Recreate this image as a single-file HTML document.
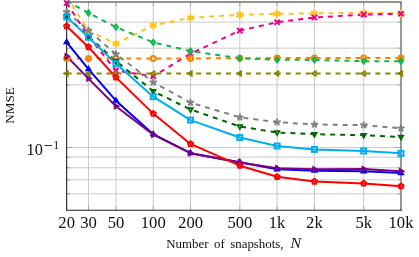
<!DOCTYPE html>
<html><head><meta charset="utf-8"><style>
html,body{margin:0;padding:0;background:#fff;}
body{width:419px;height:257px;overflow:hidden;position:relative;font-family:"Liberation Serif",serif;}
</style></head><body>
<svg width="419" height="257" viewBox="0 0 419 257" style="position:absolute;left:0;top:0;will-change:transform">
<rect width="419" height="257" fill="#fff"/>
<line x1="88.46" y1="1.95" x2="88.46" y2="210.3" stroke="#cacaca" stroke-width="1"/>
<line x1="115.95" y1="1.95" x2="115.95" y2="210.3" stroke="#cacaca" stroke-width="1"/>
<line x1="153.24" y1="1.95" x2="153.24" y2="210.3" stroke="#cacaca" stroke-width="1"/>
<line x1="190.53" y1="1.95" x2="190.53" y2="210.3" stroke="#cacaca" stroke-width="1"/>
<line x1="239.83" y1="1.95" x2="239.83" y2="210.3" stroke="#cacaca" stroke-width="1"/>
<line x1="277.12" y1="1.95" x2="277.12" y2="210.3" stroke="#cacaca" stroke-width="1"/>
<line x1="314.41" y1="1.95" x2="314.41" y2="210.3" stroke="#cacaca" stroke-width="1"/>
<line x1="363.71" y1="1.95" x2="363.71" y2="210.3" stroke="#cacaca" stroke-width="1"/>
<line x1="66.65" y1="22.14" x2="401.0" y2="22.14" stroke="#cacaca" stroke-width="1"/>
<line x1="66.65" y1="48.17" x2="401.0" y2="48.17" stroke="#cacaca" stroke-width="1"/>
<line x1="66.65" y1="84.86" x2="401.0" y2="84.86" stroke="#cacaca" stroke-width="1"/>
<line x1="66.65" y1="147.58" x2="401.0" y2="147.58" stroke="#cacaca" stroke-width="1"/>
<line x1="66.65" y1="157.11" x2="401.0" y2="157.11" stroke="#cacaca" stroke-width="1"/>
<line x1="66.65" y1="167.77" x2="401.0" y2="167.77" stroke="#cacaca" stroke-width="1"/>
<line x1="66.65" y1="179.85" x2="401.0" y2="179.85" stroke="#cacaca" stroke-width="1"/>
<line x1="66.65" y1="193.80" x2="401.0" y2="193.80" stroke="#cacaca" stroke-width="1"/>
<line x1="66.65" y1="210.3" x2="66.65" y2="206.3" stroke="#999" stroke-width="0.8"/>
<line x1="66.65" y1="1.95" x2="66.65" y2="5.95" stroke="#999" stroke-width="0.8"/>
<line x1="88.46" y1="210.3" x2="88.46" y2="206.3" stroke="#999" stroke-width="0.8"/>
<line x1="88.46" y1="1.95" x2="88.46" y2="5.95" stroke="#999" stroke-width="0.8"/>
<line x1="115.95" y1="210.3" x2="115.95" y2="206.3" stroke="#999" stroke-width="0.8"/>
<line x1="115.95" y1="1.95" x2="115.95" y2="5.95" stroke="#999" stroke-width="0.8"/>
<line x1="153.24" y1="210.3" x2="153.24" y2="206.3" stroke="#999" stroke-width="0.8"/>
<line x1="153.24" y1="1.95" x2="153.24" y2="5.95" stroke="#999" stroke-width="0.8"/>
<line x1="190.53" y1="210.3" x2="190.53" y2="206.3" stroke="#999" stroke-width="0.8"/>
<line x1="190.53" y1="1.95" x2="190.53" y2="5.95" stroke="#999" stroke-width="0.8"/>
<line x1="239.83" y1="210.3" x2="239.83" y2="206.3" stroke="#999" stroke-width="0.8"/>
<line x1="239.83" y1="1.95" x2="239.83" y2="5.95" stroke="#999" stroke-width="0.8"/>
<line x1="277.12" y1="210.3" x2="277.12" y2="206.3" stroke="#999" stroke-width="0.8"/>
<line x1="277.12" y1="1.95" x2="277.12" y2="5.95" stroke="#999" stroke-width="0.8"/>
<line x1="314.41" y1="210.3" x2="314.41" y2="206.3" stroke="#999" stroke-width="0.8"/>
<line x1="314.41" y1="1.95" x2="314.41" y2="5.95" stroke="#999" stroke-width="0.8"/>
<line x1="363.71" y1="210.3" x2="363.71" y2="206.3" stroke="#999" stroke-width="0.8"/>
<line x1="363.71" y1="1.95" x2="363.71" y2="5.95" stroke="#999" stroke-width="0.8"/>
<line x1="401.00" y1="210.3" x2="401.00" y2="206.3" stroke="#999" stroke-width="0.8"/>
<line x1="401.00" y1="1.95" x2="401.00" y2="5.95" stroke="#999" stroke-width="0.8"/>
<line x1="66.65" y1="22.14" x2="70.15" y2="22.14" stroke="#999" stroke-width="0.8"/>
<line x1="401.0" y1="22.14" x2="397.5" y2="22.14" stroke="#999" stroke-width="0.8"/>
<line x1="66.65" y1="48.17" x2="70.15" y2="48.17" stroke="#999" stroke-width="0.8"/>
<line x1="401.0" y1="48.17" x2="397.5" y2="48.17" stroke="#999" stroke-width="0.8"/>
<line x1="66.65" y1="84.86" x2="70.15" y2="84.86" stroke="#999" stroke-width="0.8"/>
<line x1="401.0" y1="84.86" x2="397.5" y2="84.86" stroke="#999" stroke-width="0.8"/>
<line x1="66.65" y1="147.58" x2="72.65" y2="147.58" stroke="#999" stroke-width="0.8"/>
<line x1="401.0" y1="147.58" x2="395.0" y2="147.58" stroke="#999" stroke-width="0.8"/>
<line x1="66.65" y1="157.11" x2="70.15" y2="157.11" stroke="#999" stroke-width="0.8"/>
<line x1="401.0" y1="157.11" x2="397.5" y2="157.11" stroke="#999" stroke-width="0.8"/>
<line x1="66.65" y1="167.77" x2="70.15" y2="167.77" stroke="#999" stroke-width="0.8"/>
<line x1="401.0" y1="167.77" x2="397.5" y2="167.77" stroke="#999" stroke-width="0.8"/>
<line x1="66.65" y1="179.85" x2="70.15" y2="179.85" stroke="#999" stroke-width="0.8"/>
<line x1="401.0" y1="179.85" x2="397.5" y2="179.85" stroke="#999" stroke-width="0.8"/>
<line x1="66.65" y1="193.80" x2="70.15" y2="193.80" stroke="#999" stroke-width="0.8"/>
<line x1="401.0" y1="193.80" x2="397.5" y2="193.80" stroke="#999" stroke-width="0.8"/>
<path d="M66.65 1.95H401.0V210.3" fill="none" stroke="#707070" stroke-width="1.4" stroke-linejoin="round"/>
<path d="M66.65 1.25V210.3H401.7" fill="none" stroke="#222" stroke-width="1.1" stroke-linejoin="miter"/>
<clipPath id="c"><rect x="66.65" y="1.95" width="334.35" height="208.35000000000002"/></clipPath>
<polyline points="66.65,-3.50 88.46,30.80 115.95,43.70 153.24,25.40 190.53,17.80 239.83,14.80 277.12,13.90 314.41,13.40 363.71,12.80 401.00,13.40" fill="none" stroke="#ffc31a" stroke-width="1.99" stroke-linejoin="round" stroke-dasharray="4.98 4.98" clip-path="url(#c)"/>
<polyline points="66.65,3.00 88.46,36.30 115.95,70.60 153.24,76.20 190.53,53.70 239.83,30.60 277.12,22.20 314.41,17.50 363.71,14.60 401.00,13.80" fill="none" stroke="#ec008c" stroke-width="1.99" stroke-linejoin="round" stroke-dasharray="4.98 4.98" clip-path="url(#c)"/>
<polyline points="66.65,58.60 88.46,58.60 115.95,58.50 153.24,58.40 190.53,58.40 239.83,58.30 277.12,58.00 314.41,58.10 363.71,57.90 401.00,57.90" fill="none" stroke="#ff8000" stroke-width="1.99" stroke-linejoin="round" stroke-dasharray="4.98 4.98" clip-path="url(#c)"/>
<polyline points="66.65,1.00 88.46,12.90 115.95,27.10 153.24,42.40 190.53,51.00 239.83,58.30 277.12,59.80 314.41,59.90 363.71,61.20 401.00,61.20" fill="none" stroke="#08b84a" stroke-width="1.99" stroke-linejoin="round" stroke-dasharray="4.98 4.98" clip-path="url(#c)"/>
<polyline points="66.65,73.50 88.46,73.50 115.95,73.50 153.24,73.50 190.53,73.50 239.83,73.50 277.12,73.50 314.41,73.50 363.71,73.50 401.00,73.50" fill="none" stroke="#8a8500" stroke-width="1.99" stroke-linejoin="round" stroke-dasharray="4.98 4.98" clip-path="url(#c)"/>
<polyline points="66.65,11.90 88.46,30.50 115.95,54.20 153.24,82.30 190.53,102.60 239.83,117.30 277.12,122.20 314.41,124.50 363.71,125.20 401.00,128.30" fill="none" stroke="#808080" stroke-width="1.99" stroke-linejoin="round" stroke-dasharray="4.98 4.98" clip-path="url(#c)"/>
<polyline points="66.65,16.80 88.46,36.60 115.95,61.00 153.24,91.20 190.53,109.50 239.83,126.50 277.12,132.50 314.41,134.20 363.71,135.20 401.00,137.00" fill="none" stroke="#006600" stroke-width="1.99" stroke-linejoin="round" stroke-dasharray="4.98 4.98" clip-path="url(#c)"/>
<polyline points="66.65,17.00 88.46,37.30 115.95,63.60 153.24,96.70 190.53,120.10 239.83,137.50 277.12,146.00 314.41,149.40 363.71,151.00 401.00,153.30" fill="none" stroke="#00aeef" stroke-width="1.99" stroke-linejoin="round" clip-path="url(#c)"/>
<polyline points="66.65,42.20 88.46,69.20 115.95,100.70 153.24,134.20 190.53,153.20 239.83,162.20 277.12,169.30 314.41,170.70 363.71,171.30 401.00,173.00" fill="none" stroke="#0000ff" stroke-width="1.99" stroke-linejoin="round" clip-path="url(#c)"/>
<polyline points="66.65,56.20 88.46,78.60 115.95,106.20 153.24,134.70 190.53,153.20 239.83,162.50 277.12,168.30 314.41,169.20 363.71,168.90 401.00,171.30" fill="none" stroke="#800080" stroke-width="1.99" stroke-linejoin="round" clip-path="url(#c)"/>
<polyline points="66.65,26.20 88.46,47.00 115.95,77.40 153.24,113.60 190.53,143.90 239.83,165.70 277.12,176.80 314.41,181.50 363.71,183.40 401.00,186.20" fill="none" stroke="#ff0000" stroke-width="1.99" stroke-linejoin="round" clip-path="url(#c)"/>
<line x1="88.46" y1="26.85" x2="88.46" y2="34.75" stroke="#ffc31a" stroke-width="1.99"/><line x1="85.04" y1="28.82" x2="91.89" y2="32.77" stroke="#ffc31a" stroke-width="1.99"/><line x1="91.89" y1="28.82" x2="85.04" y2="32.77" stroke="#ffc31a" stroke-width="1.99"/>
<line x1="115.95" y1="39.75" x2="115.95" y2="47.65" stroke="#ffc31a" stroke-width="1.99"/><line x1="112.53" y1="41.73" x2="119.37" y2="45.68" stroke="#ffc31a" stroke-width="1.99"/><line x1="119.37" y1="41.73" x2="112.53" y2="45.68" stroke="#ffc31a" stroke-width="1.99"/>
<line x1="153.24" y1="21.45" x2="153.24" y2="29.35" stroke="#ffc31a" stroke-width="1.99"/><line x1="149.82" y1="23.42" x2="156.66" y2="27.38" stroke="#ffc31a" stroke-width="1.99"/><line x1="156.66" y1="23.42" x2="149.82" y2="27.38" stroke="#ffc31a" stroke-width="1.99"/>
<line x1="190.53" y1="13.85" x2="190.53" y2="21.75" stroke="#ffc31a" stroke-width="1.99"/><line x1="187.11" y1="15.83" x2="193.95" y2="19.78" stroke="#ffc31a" stroke-width="1.99"/><line x1="193.95" y1="15.83" x2="187.11" y2="19.78" stroke="#ffc31a" stroke-width="1.99"/>
<line x1="239.83" y1="10.85" x2="239.83" y2="18.75" stroke="#ffc31a" stroke-width="1.99"/><line x1="236.41" y1="12.83" x2="243.25" y2="16.78" stroke="#ffc31a" stroke-width="1.99"/><line x1="243.25" y1="12.83" x2="236.41" y2="16.78" stroke="#ffc31a" stroke-width="1.99"/>
<line x1="277.12" y1="9.95" x2="277.12" y2="17.85" stroke="#ffc31a" stroke-width="1.99"/><line x1="273.70" y1="11.93" x2="280.54" y2="15.88" stroke="#ffc31a" stroke-width="1.99"/><line x1="280.54" y1="11.93" x2="273.70" y2="15.88" stroke="#ffc31a" stroke-width="1.99"/>
<line x1="314.41" y1="9.45" x2="314.41" y2="17.35" stroke="#ffc31a" stroke-width="1.99"/><line x1="310.99" y1="11.43" x2="317.83" y2="15.38" stroke="#ffc31a" stroke-width="1.99"/><line x1="317.83" y1="11.43" x2="310.99" y2="15.38" stroke="#ffc31a" stroke-width="1.99"/>
<line x1="363.71" y1="8.85" x2="363.71" y2="16.75" stroke="#ffc31a" stroke-width="1.99"/><line x1="360.29" y1="10.83" x2="367.13" y2="14.78" stroke="#ffc31a" stroke-width="1.99"/><line x1="367.13" y1="10.83" x2="360.29" y2="14.78" stroke="#ffc31a" stroke-width="1.99"/>
<line x1="401.00" y1="9.45" x2="401.00" y2="17.35" stroke="#ffc31a" stroke-width="1.99"/><line x1="397.58" y1="11.43" x2="404.42" y2="15.38" stroke="#ffc31a" stroke-width="1.99"/><line x1="404.42" y1="11.43" x2="397.58" y2="15.38" stroke="#ffc31a" stroke-width="1.99"/>
<path d="M64.04 0.39L69.26 5.61M64.04 5.61L69.26 0.39" stroke="#ec008c" stroke-width="1.99" fill="none"/>
<path d="M85.86 33.69L91.07 38.91M85.86 38.91L91.07 33.69" stroke="#ec008c" stroke-width="1.99" fill="none"/>
<path d="M113.34 67.99L118.55 73.21M113.34 73.21L118.55 67.99" stroke="#ec008c" stroke-width="1.99" fill="none"/>
<path d="M150.63 73.59L155.85 78.81M150.63 78.81L155.85 73.59" stroke="#ec008c" stroke-width="1.99" fill="none"/>
<path d="M187.92 51.09L193.14 56.31M187.92 56.31L193.14 51.09" stroke="#ec008c" stroke-width="1.99" fill="none"/>
<path d="M237.22 27.99L242.43 33.21M237.22 33.21L242.43 27.99" stroke="#ec008c" stroke-width="1.99" fill="none"/>
<path d="M274.51 19.59L279.73 24.81M274.51 24.81L279.73 19.59" stroke="#ec008c" stroke-width="1.99" fill="none"/>
<path d="M311.80 14.89L317.02 20.11M311.80 20.11L317.02 14.89" stroke="#ec008c" stroke-width="1.99" fill="none"/>
<path d="M361.10 11.99L366.31 17.21M361.10 17.21L366.31 11.99" stroke="#ec008c" stroke-width="1.99" fill="none"/>
<path d="M398.39 11.19L403.61 16.41M398.39 16.41L403.61 11.19" stroke="#ec008c" stroke-width="1.99" fill="none"/>
<circle cx="66.65" cy="58.60" r="2.49" stroke="#ff8000" stroke-width="1.99" fill="none"/>
<circle cx="88.46" cy="58.60" r="2.49" stroke="#ff8000" stroke-width="1.99" fill="none"/>
<circle cx="115.95" cy="58.50" r="2.49" stroke="#ff8000" stroke-width="1.99" fill="none"/>
<circle cx="153.24" cy="58.40" r="2.49" stroke="#ff8000" stroke-width="1.99" fill="none"/>
<circle cx="190.53" cy="58.40" r="2.49" stroke="#ff8000" stroke-width="1.99" fill="none"/>
<circle cx="239.83" cy="58.30" r="2.49" stroke="#ff8000" stroke-width="1.99" fill="none"/>
<circle cx="277.12" cy="58.00" r="2.49" stroke="#ff8000" stroke-width="1.99" fill="none"/>
<circle cx="314.41" cy="58.10" r="2.49" stroke="#ff8000" stroke-width="1.99" fill="none"/>
<circle cx="363.71" cy="57.90" r="2.49" stroke="#ff8000" stroke-width="1.99" fill="none"/>
<circle cx="401.00" cy="57.90" r="2.49" stroke="#ff8000" stroke-width="1.99" fill="none"/>
<path d="M88.46 10.41L90.33 12.90L88.46 15.39L86.60 12.90Z" stroke="#08b84a" stroke-width="1.99" fill="none" stroke-miterlimit="10"/>
<path d="M115.95 24.61L117.81 27.10L115.95 29.59L114.08 27.10Z" stroke="#08b84a" stroke-width="1.99" fill="none" stroke-miterlimit="10"/>
<path d="M153.24 39.91L155.11 42.40L153.24 44.89L151.37 42.40Z" stroke="#08b84a" stroke-width="1.99" fill="none" stroke-miterlimit="10"/>
<path d="M190.53 48.51L192.40 51.00L190.53 53.49L188.66 51.00Z" stroke="#08b84a" stroke-width="1.99" fill="none" stroke-miterlimit="10"/>
<path d="M239.83 55.81L241.70 58.30L239.83 60.79L237.96 58.30Z" stroke="#08b84a" stroke-width="1.99" fill="none" stroke-miterlimit="10"/>
<path d="M277.12 57.31L278.99 59.80L277.12 62.29L275.25 59.80Z" stroke="#08b84a" stroke-width="1.99" fill="none" stroke-miterlimit="10"/>
<path d="M314.41 57.41L316.28 59.90L314.41 62.39L312.54 59.90Z" stroke="#08b84a" stroke-width="1.99" fill="none" stroke-miterlimit="10"/>
<path d="M363.71 58.71L365.58 61.20L363.71 63.69L361.84 61.20Z" stroke="#08b84a" stroke-width="1.99" fill="none" stroke-miterlimit="10"/>
<path d="M401.00 58.71L402.87 61.20L401.00 63.69L399.13 61.20Z" stroke="#08b84a" stroke-width="1.99" fill="none" stroke-miterlimit="10"/>
<polygon points="0.00,-2.60 -2.25,1.30 2.25,1.30" transform="translate(66.65 73.50) rotate(-90)" fill="none" stroke="#8a8500" stroke-width="1.7" stroke-linejoin="miter" stroke-miterlimit="10"/>
<polygon points="0.00,-2.60 -2.25,1.30 2.25,1.30" transform="translate(88.46 73.50) rotate(-90)" fill="none" stroke="#8a8500" stroke-width="1.7" stroke-linejoin="miter" stroke-miterlimit="10"/>
<polygon points="0.00,-2.60 -2.25,1.30 2.25,1.30" transform="translate(115.95 73.50) rotate(-90)" fill="none" stroke="#8a8500" stroke-width="1.7" stroke-linejoin="miter" stroke-miterlimit="10"/>
<polygon points="0.00,-2.60 -2.25,1.30 2.25,1.30" transform="translate(153.24 73.50) rotate(-90)" fill="none" stroke="#8a8500" stroke-width="1.7" stroke-linejoin="miter" stroke-miterlimit="10"/>
<polygon points="0.00,-2.60 -2.25,1.30 2.25,1.30" transform="translate(190.53 73.50) rotate(-90)" fill="none" stroke="#8a8500" stroke-width="1.7" stroke-linejoin="miter" stroke-miterlimit="10"/>
<polygon points="0.00,-2.60 -2.25,1.30 2.25,1.30" transform="translate(239.83 73.50) rotate(-90)" fill="none" stroke="#8a8500" stroke-width="1.7" stroke-linejoin="miter" stroke-miterlimit="10"/>
<polygon points="0.00,-2.60 -2.25,1.30 2.25,1.30" transform="translate(277.12 73.50) rotate(-90)" fill="none" stroke="#8a8500" stroke-width="1.7" stroke-linejoin="miter" stroke-miterlimit="10"/>
<polygon points="0.00,-2.60 -2.25,1.30 2.25,1.30" transform="translate(314.41 73.50) rotate(-90)" fill="none" stroke="#8a8500" stroke-width="1.7" stroke-linejoin="miter" stroke-miterlimit="10"/>
<polygon points="0.00,-2.60 -2.25,1.30 2.25,1.30" transform="translate(363.71 73.50) rotate(-90)" fill="none" stroke="#8a8500" stroke-width="1.7" stroke-linejoin="miter" stroke-miterlimit="10"/>
<polygon points="0.00,-2.60 -2.25,1.30 2.25,1.30" transform="translate(401.00 73.50) rotate(-90)" fill="none" stroke="#8a8500" stroke-width="1.7" stroke-linejoin="miter" stroke-miterlimit="10"/>
<line x1="66.65" y1="11.90" x2="66.65" y2="8.20" stroke="#808080" stroke-width="1.99"/><line x1="66.65" y1="11.90" x2="63.13" y2="10.76" stroke="#808080" stroke-width="1.99"/><line x1="66.65" y1="11.90" x2="64.48" y2="14.89" stroke="#808080" stroke-width="1.99"/><line x1="66.65" y1="11.90" x2="68.82" y2="14.89" stroke="#808080" stroke-width="1.99"/><line x1="66.65" y1="11.90" x2="70.17" y2="10.76" stroke="#808080" stroke-width="1.99"/>
<line x1="88.46" y1="30.50" x2="88.46" y2="26.80" stroke="#808080" stroke-width="1.99"/><line x1="88.46" y1="30.50" x2="84.95" y2="29.36" stroke="#808080" stroke-width="1.99"/><line x1="88.46" y1="30.50" x2="86.29" y2="33.49" stroke="#808080" stroke-width="1.99"/><line x1="88.46" y1="30.50" x2="90.64" y2="33.49" stroke="#808080" stroke-width="1.99"/><line x1="88.46" y1="30.50" x2="91.98" y2="29.36" stroke="#808080" stroke-width="1.99"/>
<line x1="115.95" y1="54.20" x2="115.95" y2="50.50" stroke="#808080" stroke-width="1.99"/><line x1="115.95" y1="54.20" x2="112.43" y2="53.06" stroke="#808080" stroke-width="1.99"/><line x1="115.95" y1="54.20" x2="113.77" y2="57.19" stroke="#808080" stroke-width="1.99"/><line x1="115.95" y1="54.20" x2="118.12" y2="57.19" stroke="#808080" stroke-width="1.99"/><line x1="115.95" y1="54.20" x2="119.47" y2="53.06" stroke="#808080" stroke-width="1.99"/>
<line x1="153.24" y1="82.30" x2="153.24" y2="78.60" stroke="#808080" stroke-width="1.99"/><line x1="153.24" y1="82.30" x2="149.72" y2="81.16" stroke="#808080" stroke-width="1.99"/><line x1="153.24" y1="82.30" x2="151.06" y2="85.29" stroke="#808080" stroke-width="1.99"/><line x1="153.24" y1="82.30" x2="155.41" y2="85.29" stroke="#808080" stroke-width="1.99"/><line x1="153.24" y1="82.30" x2="156.76" y2="81.16" stroke="#808080" stroke-width="1.99"/>
<line x1="190.53" y1="102.60" x2="190.53" y2="98.90" stroke="#808080" stroke-width="1.99"/><line x1="190.53" y1="102.60" x2="187.01" y2="101.46" stroke="#808080" stroke-width="1.99"/><line x1="190.53" y1="102.60" x2="188.36" y2="105.59" stroke="#808080" stroke-width="1.99"/><line x1="190.53" y1="102.60" x2="192.71" y2="105.59" stroke="#808080" stroke-width="1.99"/><line x1="190.53" y1="102.60" x2="194.05" y2="101.46" stroke="#808080" stroke-width="1.99"/>
<line x1="239.83" y1="117.30" x2="239.83" y2="113.60" stroke="#808080" stroke-width="1.99"/><line x1="239.83" y1="117.30" x2="236.31" y2="116.16" stroke="#808080" stroke-width="1.99"/><line x1="239.83" y1="117.30" x2="237.65" y2="120.29" stroke="#808080" stroke-width="1.99"/><line x1="239.83" y1="117.30" x2="242.00" y2="120.29" stroke="#808080" stroke-width="1.99"/><line x1="239.83" y1="117.30" x2="243.35" y2="116.16" stroke="#808080" stroke-width="1.99"/>
<line x1="277.12" y1="122.20" x2="277.12" y2="118.50" stroke="#808080" stroke-width="1.99"/><line x1="277.12" y1="122.20" x2="273.60" y2="121.06" stroke="#808080" stroke-width="1.99"/><line x1="277.12" y1="122.20" x2="274.94" y2="125.19" stroke="#808080" stroke-width="1.99"/><line x1="277.12" y1="122.20" x2="279.29" y2="125.19" stroke="#808080" stroke-width="1.99"/><line x1="277.12" y1="122.20" x2="280.64" y2="121.06" stroke="#808080" stroke-width="1.99"/>
<line x1="314.41" y1="124.50" x2="314.41" y2="120.80" stroke="#808080" stroke-width="1.99"/><line x1="314.41" y1="124.50" x2="310.89" y2="123.36" stroke="#808080" stroke-width="1.99"/><line x1="314.41" y1="124.50" x2="312.24" y2="127.49" stroke="#808080" stroke-width="1.99"/><line x1="314.41" y1="124.50" x2="316.59" y2="127.49" stroke="#808080" stroke-width="1.99"/><line x1="314.41" y1="124.50" x2="317.93" y2="123.36" stroke="#808080" stroke-width="1.99"/>
<line x1="363.71" y1="125.20" x2="363.71" y2="121.50" stroke="#808080" stroke-width="1.99"/><line x1="363.71" y1="125.20" x2="360.19" y2="124.06" stroke="#808080" stroke-width="1.99"/><line x1="363.71" y1="125.20" x2="361.53" y2="128.19" stroke="#808080" stroke-width="1.99"/><line x1="363.71" y1="125.20" x2="365.88" y2="128.19" stroke="#808080" stroke-width="1.99"/><line x1="363.71" y1="125.20" x2="367.23" y2="124.06" stroke="#808080" stroke-width="1.99"/>
<line x1="401.00" y1="128.30" x2="401.00" y2="124.60" stroke="#808080" stroke-width="1.99"/><line x1="401.00" y1="128.30" x2="397.48" y2="127.16" stroke="#808080" stroke-width="1.99"/><line x1="401.00" y1="128.30" x2="398.83" y2="131.29" stroke="#808080" stroke-width="1.99"/><line x1="401.00" y1="128.30" x2="403.17" y2="131.29" stroke="#808080" stroke-width="1.99"/><line x1="401.00" y1="128.30" x2="404.52" y2="127.16" stroke="#808080" stroke-width="1.99"/>
<polygon points="0.00,-2.60 -2.25,1.30 2.25,1.30" transform="translate(66.65 16.80) rotate(180)" fill="none" stroke="#006600" stroke-width="1.7" stroke-linejoin="miter" stroke-miterlimit="10"/>
<polygon points="0.00,-2.60 -2.25,1.30 2.25,1.30" transform="translate(88.46 36.60) rotate(180)" fill="none" stroke="#006600" stroke-width="1.7" stroke-linejoin="miter" stroke-miterlimit="10"/>
<polygon points="0.00,-2.60 -2.25,1.30 2.25,1.30" transform="translate(115.95 61.00) rotate(180)" fill="none" stroke="#006600" stroke-width="1.7" stroke-linejoin="miter" stroke-miterlimit="10"/>
<polygon points="0.00,-2.60 -2.25,1.30 2.25,1.30" transform="translate(153.24 91.20) rotate(180)" fill="none" stroke="#006600" stroke-width="1.7" stroke-linejoin="miter" stroke-miterlimit="10"/>
<polygon points="0.00,-2.60 -2.25,1.30 2.25,1.30" transform="translate(190.53 109.50) rotate(180)" fill="none" stroke="#006600" stroke-width="1.7" stroke-linejoin="miter" stroke-miterlimit="10"/>
<polygon points="0.00,-2.60 -2.25,1.30 2.25,1.30" transform="translate(239.83 126.50) rotate(180)" fill="none" stroke="#006600" stroke-width="1.7" stroke-linejoin="miter" stroke-miterlimit="10"/>
<polygon points="0.00,-2.60 -2.25,1.30 2.25,1.30" transform="translate(277.12 132.50) rotate(180)" fill="none" stroke="#006600" stroke-width="1.7" stroke-linejoin="miter" stroke-miterlimit="10"/>
<polygon points="0.00,-2.60 -2.25,1.30 2.25,1.30" transform="translate(314.41 134.20) rotate(180)" fill="none" stroke="#006600" stroke-width="1.7" stroke-linejoin="miter" stroke-miterlimit="10"/>
<polygon points="0.00,-2.60 -2.25,1.30 2.25,1.30" transform="translate(363.71 135.20) rotate(180)" fill="none" stroke="#006600" stroke-width="1.7" stroke-linejoin="miter" stroke-miterlimit="10"/>
<polygon points="0.00,-2.60 -2.25,1.30 2.25,1.30" transform="translate(401.00 137.00) rotate(180)" fill="none" stroke="#006600" stroke-width="1.7" stroke-linejoin="miter" stroke-miterlimit="10"/>
<rect x="64.16" y="14.51" width="4.98" height="4.98" stroke="#00aeef" stroke-width="1.99" fill="none"/>
<rect x="85.97" y="34.81" width="4.98" height="4.98" stroke="#00aeef" stroke-width="1.99" fill="none"/>
<rect x="113.46" y="61.11" width="4.98" height="4.98" stroke="#00aeef" stroke-width="1.99" fill="none"/>
<rect x="150.75" y="94.21" width="4.98" height="4.98" stroke="#00aeef" stroke-width="1.99" fill="none"/>
<rect x="188.04" y="117.61" width="4.98" height="4.98" stroke="#00aeef" stroke-width="1.99" fill="none"/>
<rect x="237.34" y="135.01" width="4.98" height="4.98" stroke="#00aeef" stroke-width="1.99" fill="none"/>
<rect x="274.63" y="143.51" width="4.98" height="4.98" stroke="#00aeef" stroke-width="1.99" fill="none"/>
<rect x="311.92" y="146.91" width="4.98" height="4.98" stroke="#00aeef" stroke-width="1.99" fill="none"/>
<rect x="361.22" y="148.51" width="4.98" height="4.98" stroke="#00aeef" stroke-width="1.99" fill="none"/>
<rect x="398.51" y="150.81" width="4.98" height="4.98" stroke="#00aeef" stroke-width="1.99" fill="none"/>
<polygon points="0.00,-2.60 -2.25,1.30 2.25,1.30" transform="translate(66.65 42.20) rotate(0)" fill="none" stroke="#0000ff" stroke-width="1.7" stroke-linejoin="miter" stroke-miterlimit="10"/>
<polygon points="0.00,-2.60 -2.25,1.30 2.25,1.30" transform="translate(88.46 69.20) rotate(0)" fill="none" stroke="#0000ff" stroke-width="1.7" stroke-linejoin="miter" stroke-miterlimit="10"/>
<polygon points="0.00,-2.60 -2.25,1.30 2.25,1.30" transform="translate(115.95 100.70) rotate(0)" fill="none" stroke="#0000ff" stroke-width="1.7" stroke-linejoin="miter" stroke-miterlimit="10"/>
<polygon points="0.00,-2.60 -2.25,1.30 2.25,1.30" transform="translate(153.24 134.20) rotate(0)" fill="none" stroke="#0000ff" stroke-width="1.7" stroke-linejoin="miter" stroke-miterlimit="10"/>
<polygon points="0.00,-2.60 -2.25,1.30 2.25,1.30" transform="translate(190.53 153.20) rotate(0)" fill="none" stroke="#0000ff" stroke-width="1.7" stroke-linejoin="miter" stroke-miterlimit="10"/>
<polygon points="0.00,-2.60 -2.25,1.30 2.25,1.30" transform="translate(239.83 162.20) rotate(0)" fill="none" stroke="#0000ff" stroke-width="1.7" stroke-linejoin="miter" stroke-miterlimit="10"/>
<polygon points="0.00,-2.60 -2.25,1.30 2.25,1.30" transform="translate(277.12 169.30) rotate(0)" fill="none" stroke="#0000ff" stroke-width="1.7" stroke-linejoin="miter" stroke-miterlimit="10"/>
<polygon points="0.00,-2.60 -2.25,1.30 2.25,1.30" transform="translate(314.41 170.70) rotate(0)" fill="none" stroke="#0000ff" stroke-width="1.7" stroke-linejoin="miter" stroke-miterlimit="10"/>
<polygon points="0.00,-2.60 -2.25,1.30 2.25,1.30" transform="translate(363.71 171.30) rotate(0)" fill="none" stroke="#0000ff" stroke-width="1.7" stroke-linejoin="miter" stroke-miterlimit="10"/>
<polygon points="0.00,-2.60 -2.25,1.30 2.25,1.30" transform="translate(401.00 173.00) rotate(0)" fill="none" stroke="#0000ff" stroke-width="1.7" stroke-linejoin="miter" stroke-miterlimit="10"/>
<polygon points="0.00,-2.60 -2.25,1.30 2.25,1.30" transform="translate(66.65 56.20) rotate(90)" fill="none" stroke="#800080" stroke-width="1.7" stroke-linejoin="miter" stroke-miterlimit="10"/>
<polygon points="0.00,-2.60 -2.25,1.30 2.25,1.30" transform="translate(88.46 78.60) rotate(90)" fill="none" stroke="#800080" stroke-width="1.7" stroke-linejoin="miter" stroke-miterlimit="10"/>
<polygon points="0.00,-2.60 -2.25,1.30 2.25,1.30" transform="translate(115.95 106.20) rotate(90)" fill="none" stroke="#800080" stroke-width="1.7" stroke-linejoin="miter" stroke-miterlimit="10"/>
<polygon points="0.00,-2.60 -2.25,1.30 2.25,1.30" transform="translate(153.24 134.70) rotate(90)" fill="none" stroke="#800080" stroke-width="1.7" stroke-linejoin="miter" stroke-miterlimit="10"/>
<polygon points="0.00,-2.60 -2.25,1.30 2.25,1.30" transform="translate(190.53 153.20) rotate(90)" fill="none" stroke="#800080" stroke-width="1.7" stroke-linejoin="miter" stroke-miterlimit="10"/>
<polygon points="0.00,-2.60 -2.25,1.30 2.25,1.30" transform="translate(239.83 162.50) rotate(90)" fill="none" stroke="#800080" stroke-width="1.7" stroke-linejoin="miter" stroke-miterlimit="10"/>
<polygon points="0.00,-2.60 -2.25,1.30 2.25,1.30" transform="translate(277.12 168.30) rotate(90)" fill="none" stroke="#800080" stroke-width="1.7" stroke-linejoin="miter" stroke-miterlimit="10"/>
<polygon points="0.00,-2.60 -2.25,1.30 2.25,1.30" transform="translate(314.41 169.20) rotate(90)" fill="none" stroke="#800080" stroke-width="1.7" stroke-linejoin="miter" stroke-miterlimit="10"/>
<polygon points="0.00,-2.60 -2.25,1.30 2.25,1.30" transform="translate(363.71 168.90) rotate(90)" fill="none" stroke="#800080" stroke-width="1.7" stroke-linejoin="miter" stroke-miterlimit="10"/>
<polygon points="0.00,-2.60 -2.25,1.30 2.25,1.30" transform="translate(401.00 171.30) rotate(90)" fill="none" stroke="#800080" stroke-width="1.7" stroke-linejoin="miter" stroke-miterlimit="10"/>
<polygon points="66.65,23.55 64.13,25.38 65.09,28.34 68.21,28.34 69.17,25.38" stroke="#ff0000" stroke-width="1.99" fill="none" stroke-miterlimit="10"/>
<polygon points="88.46,44.35 85.94,46.18 86.91,49.14 90.02,49.14 90.98,46.18" stroke="#ff0000" stroke-width="1.99" fill="none" stroke-miterlimit="10"/>
<polygon points="115.95,74.75 113.43,76.58 114.39,79.54 117.50,79.54 118.47,76.58" stroke="#ff0000" stroke-width="1.99" fill="none" stroke-miterlimit="10"/>
<polygon points="153.24,110.95 150.72,112.78 151.68,115.74 154.80,115.74 155.76,112.78" stroke="#ff0000" stroke-width="1.99" fill="none" stroke-miterlimit="10"/>
<polygon points="190.53,141.25 188.01,143.08 188.97,146.04 192.09,146.04 193.05,143.08" stroke="#ff0000" stroke-width="1.99" fill="none" stroke-miterlimit="10"/>
<polygon points="239.83,163.05 237.31,164.88 238.27,167.84 241.39,167.84 242.35,164.88" stroke="#ff0000" stroke-width="1.99" fill="none" stroke-miterlimit="10"/>
<polygon points="277.12,174.15 274.60,175.98 275.56,178.94 278.68,178.94 279.64,175.98" stroke="#ff0000" stroke-width="1.99" fill="none" stroke-miterlimit="10"/>
<polygon points="314.41,178.85 311.89,180.68 312.85,183.64 315.97,183.64 316.93,180.68" stroke="#ff0000" stroke-width="1.99" fill="none" stroke-miterlimit="10"/>
<polygon points="363.71,180.75 361.19,182.58 362.15,185.54 365.27,185.54 366.23,182.58" stroke="#ff0000" stroke-width="1.99" fill="none" stroke-miterlimit="10"/>
<polygon points="401.00,183.55 398.48,185.38 399.44,188.34 402.56,188.34 403.52,185.38" stroke="#ff0000" stroke-width="1.99" fill="none" stroke-miterlimit="10"/>
<text x="66.65" y="227.8" font-family="Liberation Serif, serif" font-size="16.6" text-anchor="middle" fill="#111">20</text>
<text x="88.46" y="227.8" font-family="Liberation Serif, serif" font-size="16.6" text-anchor="middle" fill="#111">30</text>
<text x="115.95" y="227.8" font-family="Liberation Serif, serif" font-size="16.6" text-anchor="middle" fill="#111">50</text>
<text x="153.24" y="227.8" font-family="Liberation Serif, serif" font-size="16.6" text-anchor="middle" fill="#111">100</text>
<text x="190.53" y="227.8" font-family="Liberation Serif, serif" font-size="16.6" text-anchor="middle" fill="#111">200</text>
<text x="239.83" y="227.8" font-family="Liberation Serif, serif" font-size="16.6" text-anchor="middle" fill="#111">500</text>
<text x="277.12" y="227.8" font-family="Liberation Serif, serif" font-size="16.6" text-anchor="middle" fill="#111">1k</text>
<text x="314.41" y="227.8" font-family="Liberation Serif, serif" font-size="16.6" text-anchor="middle" fill="#111">2k</text>
<text x="363.71" y="227.8" font-family="Liberation Serif, serif" font-size="16.6" text-anchor="middle" fill="#111">5k</text>
<text x="401.00" y="227.8" font-family="Liberation Serif, serif" font-size="16.6" text-anchor="middle" fill="#111">10k</text>
<text x="166.2" y="248.3" font-family="Liberation Serif, serif" font-size="12.9" word-spacing="2.3" fill="#111">Number of snapshots,</text>
<text transform="translate(290.2 248.3) scale(1.15 1)" font-family="Liberation Serif, serif" font-style="italic" font-size="14.3" fill="#222">N</text>
<text transform="translate(14.4 123.8) rotate(-90)" font-family="Liberation Serif, serif" font-size="13.2" fill="#111">NMSE</text>
<text transform="translate(26.6 154.7) scale(0.925 1)" font-family="Liberation Serif, serif" font-size="17.6" fill="#111">10</text>
<line x1="44.5" y1="145.5" x2="52" y2="145.5" stroke="#111" stroke-width="0.9"/>
<text x="53.3" y="148.7" font-family="Liberation Serif, serif" font-size="11.8" fill="#111">1</text>
</svg>
</body></html>
